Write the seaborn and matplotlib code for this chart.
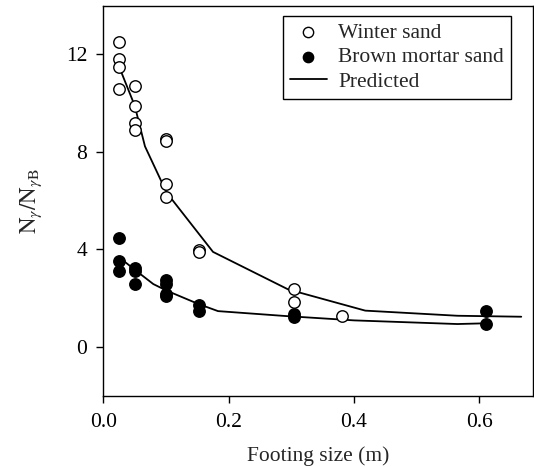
import matplotlib
matplotlib.use("Agg")
import matplotlib.pyplot as plt
import seaborn as sns
import pandas as pd

# Measured bearing-capacity ratios
winter_x = [0.025, 0.025, 0.025, 0.025, 0.05, 0.05, 0.05, 0.05,
            0.1, 0.1, 0.1, 0.1, 0.152, 0.152, 0.305, 0.305, 0.381]
winter_y = [12.53, 11.82, 11.5, 10.57, 10.7, 9.89, 9.18, 8.91,
            8.53, 8.47, 6.67, 6.15, 3.97, 3.9, 2.38, 1.84, 1.29]

brown_x = [0.025, 0.025, 0.025, 0.05, 0.05, 0.05,
           0.1, 0.1, 0.1, 0.1, 0.152, 0.152, 0.305, 0.305, 0.61, 0.61]
brown_y = [4.45, 3.53, 3.13, 3.22, 3.1, 2.57,
           2.74, 2.6, 2.18, 2.1, 1.73, 1.49, 1.35, 1.24, 1.47, 0.95]

# Predicted curves
pred_winter_x = [0.022, 0.05, 0.0664, 0.101, 0.175, 0.295, 0.418, 0.565, 0.667]
pred_winter_y = [11.7, 9.9, 8.23, 6.33, 3.9, 2.36, 1.49, 1.28, 1.24]

pred_brown_x = [0.028, 0.05, 0.0797, 0.101, 0.151, 0.183, 0.29, 0.40, 0.565, 0.61]
pred_brown_y = [3.62, 3.17, 2.58, 2.31, 1.77, 1.47, 1.27, 1.09, 0.94, 0.97]

sns.set_style("ticks")
plt.rcParams["font.family"] = ["Liberation Serif", "DejaVu Serif"]
plt.rcParams["mathtext.fontset"] = "stix"

FS = 15.5

fig = plt.figure(figsize=(5.34, 4.67), dpi=100)
ax = fig.add_axes([0.1936, 0.1527, 0.8054, 0.835])

pw = pd.DataFrame({"x": pred_winter_x, "y": pred_winter_y})
pb = pd.DataFrame({"x": pred_brown_x, "y": pred_brown_y})
sns.lineplot(data=pw, x="x", y="y", sort=False, color="black", lw=1.3, ax=ax,
             label="Predicted", zorder=2)
sns.lineplot(data=pb, x="x", y="y", sort=False, color="black", lw=1.3, ax=ax,
             zorder=2)

w = pd.DataFrame({"x": winter_x, "y": winter_y})
b = pd.DataFrame({"x": brown_x, "y": brown_y})
sns.scatterplot(data=w, x="x", y="y", marker="o", s=68, facecolor="white",
                edgecolor="black", linewidth=1.0, ax=ax, label="Winter sand", zorder=3)
sns.scatterplot(data=b, x="x", y="y", marker="o", s=68, color="black",
                edgecolor="black", linewidth=1.0, ax=ax, label="Brown mortar sand", zorder=3)

ax.set_xlim(0, 0.6865)
ax.set_ylim(-2, 14)
ax.set_xticks([0.0, 0.2, 0.4, 0.6])
ax.set_xticklabels(["0.0", "0.2", "0.4", "0.6"])
ax.set_yticks([0, 4, 8, 12])
ax.tick_params(direction="out", length=5, width=1, labelsize=FS, colors="black")
ax.tick_params(axis="x", pad=7.5)
ax.tick_params(axis="y", pad=6.5)
for s in ax.spines.values():
    s.set_visible(True)
    s.set_linewidth(1.0)
    s.set_color("black")

ax.set_xlabel("Footing size (m)", fontsize=FS, labelpad=10)
ax.set_ylabel(r"$\mathrm{N}_{\gamma}/\mathrm{N}_{\gamma\mathrm{B}}$", fontsize=FS + 1, labelpad=16)

handles, labels = ax.get_legend_handles_labels()
order = [labels.index("Winter sand"), labels.index("Brown mortar sand"), labels.index("Predicted")]
leg = ax.legend([handles[i] for i in order], [labels[i] for i in order],
                loc="upper right", bbox_to_anchor=(0.947, 0.9736), fontsize=FS,
                frameon=True, fancybox=False, framealpha=1, edgecolor="black",
                borderpad=0.32, labelspacing=0.2, handlelength=1.75, handletextpad=0.5,
                borderaxespad=0.0, markerscale=0.9)
leg.get_frame().set_linewidth(1.0)

fig.savefig("out.png", dpi=100)
